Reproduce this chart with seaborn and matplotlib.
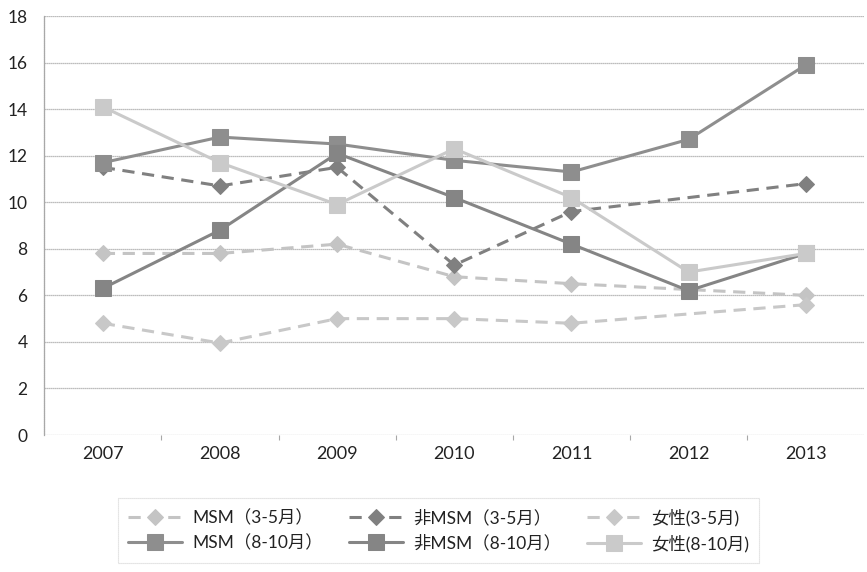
import matplotlib
matplotlib.use("Agg")
import matplotlib.pyplot as plt
import seaborn as sns
import pandas as pd
import numpy as np

years = [2007, 2008, 2009, 2010, 2011, 2012, 2013]
year_labels = ["2007", "2008", "2009", "2010", "2011", "2012", "2013"]

# 2012 spring survey not available: lines join 2011 to 2013
msm_35 = [7.8, 7.8, 8.2, 6.8, 6.5, np.nan, 6.0]
non_msm_35 = [11.5, 10.7, 11.5, 7.3, 9.6, np.nan, 10.8]
female_35 = [4.8, 3.95, 5.0, 5.0, 4.8, np.nan, 5.6]
msm_810 = [11.7, 12.8, 12.5, 11.8, 11.3, 12.7, 15.9]
non_msm_810 = [6.3, 8.8, 12.1, 10.2, 8.2, 6.2, 7.8]
female_810 = [14.1, 11.7, 9.9, 12.3, 10.2, 7.0, 7.8]

labels = ["MSM（3-5月）", "非MSM（3-5月）", "女性(3-5月)",
          "MSM（8-10月）", "非MSM（8-10月）", "女性(8-10月)"]
series = [msm_35, non_msm_35, female_35, msm_810, non_msm_810, female_810]

styles = [
    dict(color="#c4c4c4", marker="D", markersize=8, dashes=(4, 2.5)),
    dict(color="#808080", marker="D", markersize=8, dashes=(4, 2.5)),
    dict(color="#c8c8c8", marker="D", markersize=8, dashes=(4, 2.5)),
    dict(color="#8e8e8e", marker="s", markersize=11, dashes=None),
    dict(color="#858585", marker="s", markersize=11, dashes=None),
    dict(color="#cacaca", marker="s", markersize=11, dashes=None),
]

sns.set_theme(style="white")
plt.rcParams["font.family"] = ["Lato", "Noto Sans CJK JP", "DejaVu Sans"]

fig = plt.figure(figsize=(8.67, 5.72), dpi=100)
ax = fig.add_axes([0.051, 0.2395, 0.946, 0.7325])

for lab, vals, st in zip(labels, series, styles):
    df = pd.DataFrame({"year": years, "value": vals}).dropna()
    sns.lineplot(data=df, x="year", y="value", ax=ax, linewidth=2.2,
                 color=st["color"], marker=st["marker"],
                 markersize=st["markersize"], markeredgecolor=st["color"],
                 markerfacecolor=st["color"], label=lab)
    ln = ax.get_lines()[-1]
    if st["dashes"] is not None:
        ln.set_dashes(st["dashes"])

ax.set_ylim(0, 18)
ax.set_yticks(range(0, 19, 2))
ax.set_xlim(2006.5, 2013.5)
ax.set_xticks(years)
ax.set_xticklabels(year_labels)
ax.set_xticks(np.arange(2007.5, 2013.0, 1.0), minor=True)
ax.set_xlabel("")
ax.set_ylabel("")
ax.yaxis.grid(True, which="major", color="#a8a8a8", linewidth=0.9,
              linestyle=(0, (1, 0.6)))
ax.xaxis.grid(False, which="both")
for side in ["top", "right", "bottom"]:
    ax.spines[side].set_visible(False)
ax.spines["left"].set_color("#a8a8a8")
ax.spines["left"].set_linewidth(0.9)
ax.spines["left"].set_linestyle((0, (1, 0.6)))
ax.set_axisbelow(True)
ax.tick_params(axis="y", labelsize=12.5, pad=12, colors="#222222", length=0)
ax.tick_params(axis="x", which="major", labelsize=13, pad=8,
               colors="#222222", length=0)
ax.tick_params(axis="x", which="minor", length=3.5, width=0.8,
               color="#a8a8a8", direction="out", bottom=True, top=False)

handles, lbls = ax.get_legend_handles_labels()
if ax.get_legend() is not None:
    ax.get_legend().remove()
# matplotlib fills legend columns first; reorder to read across rows
order = [0, 3, 1, 4, 2, 5]
leg = fig.legend([handles[i] for i in order], [lbls[i] for i in order],
                 ncol=3, loc="center", mode="expand",
                 bbox_to_anchor=(0.136, 0.0105, 0.740, 0.124),
                 fontsize=12.5, handlelength=3.1, handletextpad=0.6,
                 columnspacing=1.0, labelspacing=0.5,
                 frameon=True, fancybox=False, borderpad=0.6,
                 borderaxespad=0.0)
leg.get_frame().set_edgecolor("#c8c8c8")
leg.get_frame().set_linestyle((0, (1, 0.8)))
leg.get_frame().set_linewidth(0.8)
for t in leg.get_texts():
    t.set_color("#222222")

fig.savefig("out.png", dpi=100, facecolor="white")
